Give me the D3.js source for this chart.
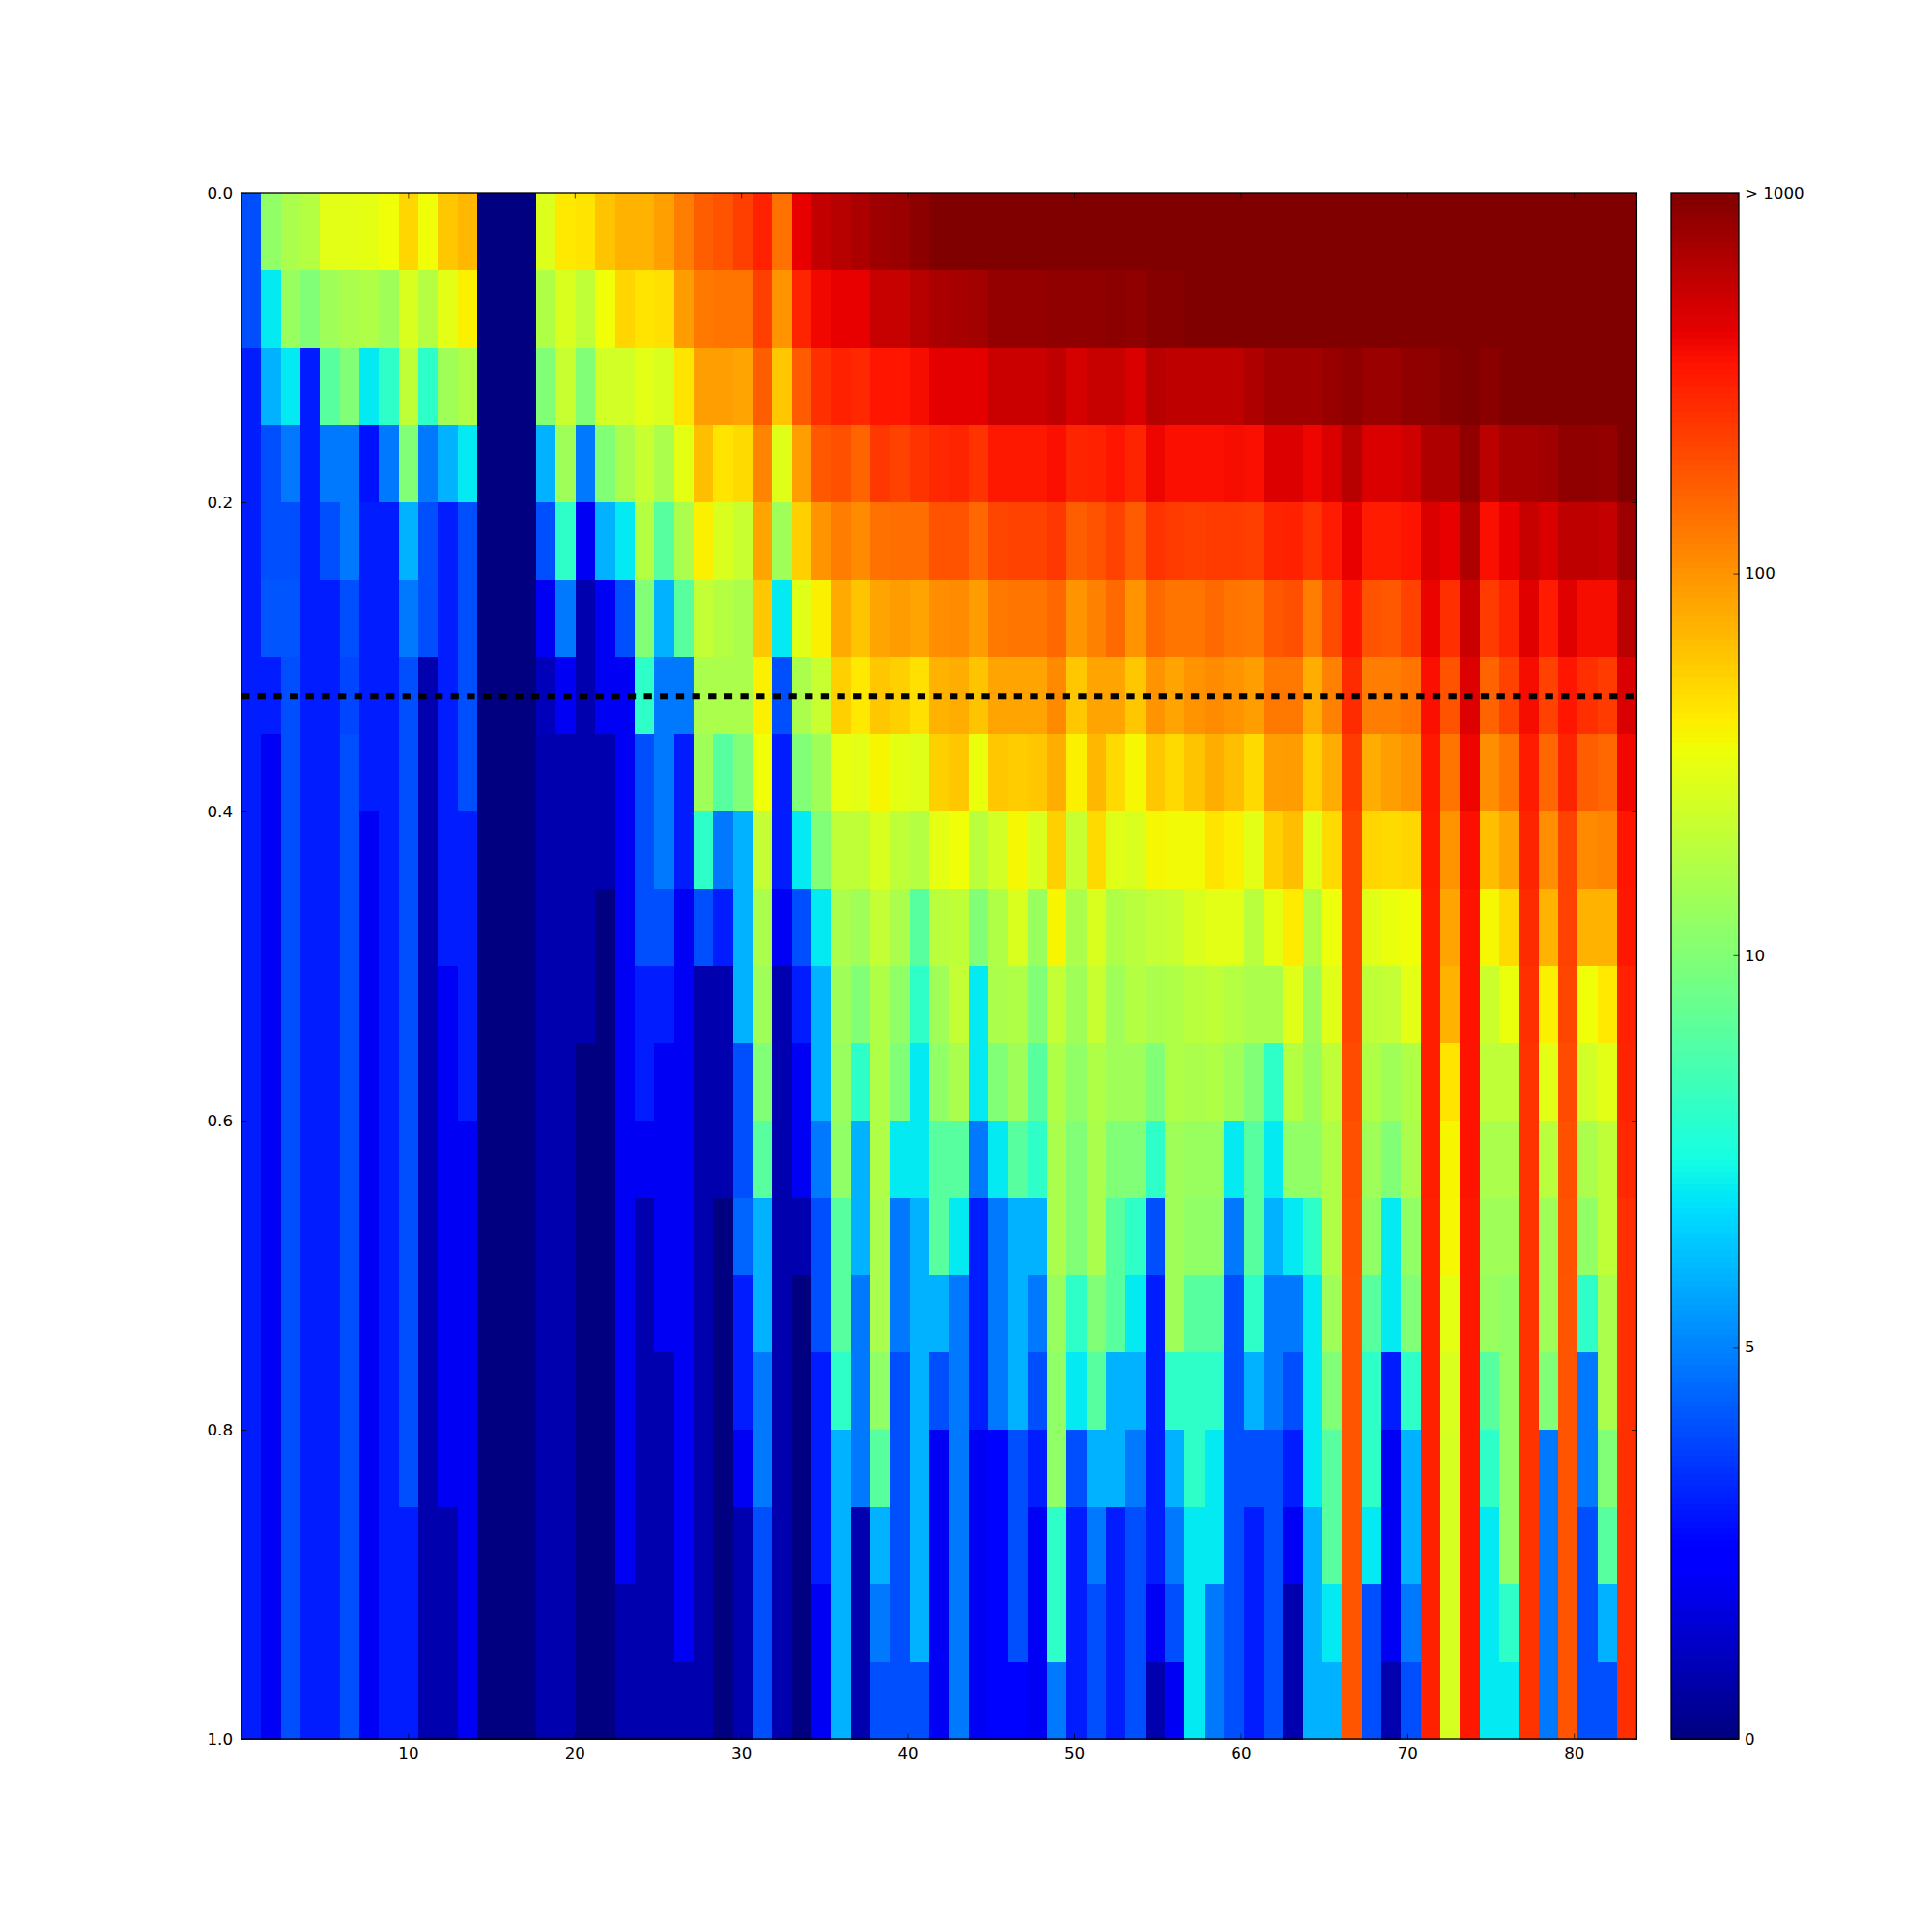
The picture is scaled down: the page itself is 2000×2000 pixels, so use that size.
<!DOCTYPE html>
<html><head><meta charset="utf-8">
<script src="https://cdnjs.cloudflare.com/ajax/libs/d3/7.8.5/d3.min.js"></script>
<style>
html,body{margin:0;padding:0;background:#fff}
svg{display:block}
text{font-family:"DejaVu Sans";fill:#000}
</style></head><body>
<svg id="c" width="2000" height="2000"></svg>
<script>
const Z=1000;
const r00=[4,12,16,18,30,30,31,35,52,35,60,70,0,0,0,28,43,45,62,73,73,88,125,170,190,230,310,140,430,580,640,700,780,800,900,Z,Z,Z,Z,Z,Z,Z,Z,Z,Z,Z,Z,Z,Z,Z,Z,Z,Z,Z,Z,Z,Z,Z,Z,Z,Z,Z,Z,Z,Z,Z,Z,Z,Z,Z,Z];
const r01=[4,7,13,10,14,16,17,14,27,18,30,40,0,0,0,17,27,20,35,52,45,47,92,130,135,135,230,100,300,400,430,430,560,560,640,710,730,750,850,850,850,870,870,870,900,870,950,950,Z,Z,Z,Z,Z,Z,Z,Z,Z,Z,Z,Z,Z,Z,Z,Z,Z,Z,Z,Z,Z,Z,Z];
const r02=[3,5.9,7,3,9,10,7,8,20,8,14,17,0,0,0,10,22,10,25,25,30,27,45,90,90,85,170,60,175,270,310,290,350,350,380,440,440,440,550,550,550,600,500,560,560,480,640,600,600,600,600,680,760,760,760,820,870,800,800,870,880,950,Z,920,Z,Z,Z,Z,Z,Z,Z];
const r03=[3,4,4.8,3,4.8,4.8,2.8,4.8,10,4.8,5.9,7,0,0,0,5.9,14,4.8,10,16,22,16,31,65,45,50,115,29,90,180,195,160,250,225,260,290,300,260,340,340,340,370,300,310,350,300,410,370,370,370,380,370,470,470,410,480,640,480,480,530,680,680,870,620,730,730,760,870,870,850,Z];
const r04=[3,4,4,3,4,4.8,3,3,5.9,4,3,4,0,0,0,4,8,2,5.9,7,18,9,16,40,27,22,85,14,55,100,125,108,140,145,145,190,190,155,215,225,225,250,170,190,225,175,260,240,230,240,240,230,300,310,260,330,430,330,330,360,480,430,680,370,430,560,480,600,600,570,790];
const r05=[3,4.1,4.1,3,3,4,3,3,4.8,4,3,4,0,0,0,2,4.8,.8,2,4,10,5.9,9,21,18,16,60,7,29,40,80,62,85,92,85,105,108,92,130,135,135,155,100,120,150,100,150,135,135,150,135,130,180,195,125,205,350,190,180,225,420,270,550,240,300,460,330,460,380,380,620];
const r06=[3,3,4,3,3,3.8,3,3,4,.8,3,4,0,0,0,1,2,.8,2,2,8,4.8,4.8,16,16,16,40,4,16,22,55,43,60,55,47,73,78,62,85,85,85,110,60,85,85,60,100,85,100,108,100,90,130,130,78,120,280,125,125,135,370,190,470,160,225,380,225,350,270,240,480];
const r07=[3,2,4,3,3,4,3,3,4,.8,3,4,0,0,0,.8,.8,.8,.8,2,4,4.8,3,14,9,10,35,3,10,14,32,30,38,31,29,55,60,33,60,57,60,77,40,70,50,37,60,50,62,77,65,50,90,92,55,78,240,78,90,100,340,135,410,105,135,330,155,300,170,155,400];
const r08=[3,2,4,3,3,4,2,3,4,.8,3,3,0,0,0,.8,.8,.8,.8,2,4,4.8,3,8,4.8,5.9,21,3,7,10,20,20,27,20,18,31,35,19,25,37,27,55,22,50,29,27,37,36,36,45,40,30,55,65,29,50,215,52,50,52,330,100,370,65,85,300,105,225,110,115,350];
const r09=[3,2,4,3,3,4,2,3,4,.8,3,3,0,0,0,.8,.8,.8,0,2,4,4,2,4,3,5.9,16,2,4,7,16,14,21,16,9,19,20,10,17,27,13,38,16,27,17,19,21,22,27,30,30,19,31,42,18,34,215,29,33,35,320,85,360,37,50,280,73,225,73,73,340];
const r10=[3,2,4,3,3,4,2,3,4,.8,2,3,0,0,0,.8,.8,.8,0,2,3,3,2,.8,.8,5.9,14,.8,3,5.9,14,10,17,12,8,14,21,7,16,17,10,21,14,22,14,18,16,17,19,20,18,16,16,29,14,29,215,20,21,30,320,73,360,23,33,270,40,215,35,43,310];
const r11=[3,2,4,3,3,4,2,3,4,.8,2,3,0,0,0,.8,.8,0,0,2,3,2,2,.8,.8,4,10,.8,2,5.9,13,8,17,10,7,12,16,7,10,14,9,17,12,17,14,14,10,17,16,17,14,10,8,18,13,20,205,17,14,17,320,45,360,20,20,260,30,205,25,30,300];
const r12=[3,2,4,3,3,4,2,3,4,.8,2,2,0,0,0,.8,.8,0,0,2,2,2,2,.8,.8,4,9,.8,2,4.8,12,5.9,17,7,7,9,9,4.8,7,9,8,16,10,16,10,10,8,14,13,13,7,9,7,12,12,17,195,14,10,16,320,38,360,16,16,260,19,195,16,20,290];
const r13=[3,2,4,3,3,4,2,3,4,.8,2,2,0,0,0,.8,.8,0,0,2,.8,2,2,.8,0,4.4,5.9,.8,.8,4,9,5.9,16,4.8,5.9,9,7,3,4.8,5.9,5.9,16,10,16,9,8,4,14,12,12,4.8,9,5.9,7,8,17,190,12,7,12,310,37,340,14,14,260,14,190,12,20,270];
const r14=[3,2,4,3,3,4,2,3,4,.8,2,2,0,0,0,.8,.8,0,0,2,.8,2,2,.8,0,3,5.9,.8,0,4,9,4.8,16,4.8,5.9,5.9,4.8,3,4.8,5.9,4.8,13,8,10,9,7,3,14,9,9,4,8,4.8,4.8,7,14,185,9,7,10,310,31,340,13,12,260,14,185,8,16,270];
const r15=[3,2,4,3,3,4,2,3,4,.8,2,2,0,0,0,.8,.8,0,0,2,.8,.8,2,.8,0,3,4.8,.8,0,3,8,4.8,12,4,5.9,4,4.8,3,4.8,5.9,4,12,7,9,5.9,5.9,3,8,8,8,4,5.9,4.8,4,7,10,185,8,3,8,310,27,340,9,12,260,10,185,4.8,16,270];
const r16=[3,2,4,3,3,4,2,3,4,.8,2,2,0,0,0,.8,.8,0,0,2,.8,.8,2,.8,0,2,4.8,.8,0,3,5.9,4.8,9,4,5.9,2,4.8,2,2.5,4,3,12,4,5.9,5.9,4.8,3,5.9,8,7,4,4,4,3,7,9,185,8,2,5.9,310,26,340,8,12,260,4.8,185,4.8,10,270];
const r17=[3,2,4,3,3,4,2,3,3,.8,.8,2,0,0,0,.8,.8,0,0,2,.8,.8,2,.8,0,.8,4,.8,0,3,5.9,.8,5.9,4,5.9,2,4.8,2,2.5,4,2,8,3,4.8,3,4,3,4.8,7,7,4,3,4,2,5.9,9,185,7,2,5.9,310,26,340,7,12,260,4.8,185,4,9,270];
const r18=[3,2,4,3,3,4,2,3,3,.8,.8,2,0,0,0,.8,.8,0,0,.8,.8,.8,2,.8,0,.8,4,.8,0,2,5.9,.8,4.8,4,5.9,2,4.8,2,2.5,4,2,8,3,4,3,4,2,4,7,4.8,4,3,4,.8,5.9,7,185,4,2,4.8,310,26,340,7,8,260,4.8,185,4,5.9,270];
const r19=[3,2,4,3,3,4,2,3,3,.8,.8,2,0,0,0,.8,.8,0,0,.8,.8,.8,.8,.8,0,.8,4,.8,0,2,5.9,.8,4,4,4,2,4.8,2,2.5,2.5,2,4.8,3,4,3,4,.8,2,7,4.8,4,3,4,.8,5.9,5.9,185,4,.8,4,310,26,340,7,7,260,4.8,185,4,4,270];
const rows=[r00,r01,r02,r03,r04,r05,r06,r07,r08,r09,r10,r11,r12,r13,r14,r15,r16,r17,r18,r19];
const xTicks=[10,20,30,40,50,60,70,80];
const yTicks=[0,.2,.4,.6,.8,1];
const xDomain=[0,83.78];
const cutoff=0.3255;
const barTicks=[0,5,10,100,1000];
const barLabels=["0","5","10","100","> 1000"];

rows.forEach((r,i)=>{if(r.length!==71)console.error("row",i,r.length)});

const L=250,R=1694.4,T=200,B=1800,CL=1730,CR=1800,FS=16.67;
const svg=d3.select("#c");
const x=d3.scaleLinear().domain(xDomain).range([L,R]);
const y=d3.scaleLinear().domain([0,1]).range([T,B]);
const cols=d3.scaleBand().domain(d3.range(71)).range([L,R]);
const rws=d3.scaleBand().domain(d3.range(20)).range([T,B]);

const low=d3.scaleLinear().domain([0,5,10]).range([0,.2535,.507]);
const high=d3.scaleLog().domain([10,100,1000]).range([.507,.754,1]);
const level=v=>v<=10?low(v):high(v);
const rr=d3.scaleLinear().domain([0,.35,.66,.89,1]).range([0,0,1,1,.5]).clamp(true);
const gg=d3.scaleLinear().domain([0,.125,.375,.64,.91,1]).range([0,0,1,1,0,0]).clamp(true);
const bb=d3.scaleLinear().domain([0,.11,.34,.65,1]).range([.5,1,1,0,0]).clamp(true);
const jet=t=>d3.rgb(rr(t)*255,gg(t)*255,bb(t)*255).formatHex();

const cells=svg.append("g").attr("shape-rendering","crispEdges");
rows.forEach((row,i)=>{
  cells.selectAll(null).data(row).enter().append("rect")
    .attr("x",(d,j)=>cols(j)).attr("y",rws(i))
    .attr("width",cols.bandwidth()+.5).attr("height",rws.bandwidth()+.5)
    .attr("fill",d=>jet(level(d)));
});

svg.append("line").attr("x1",L).attr("x2",R).attr("y1",y(cutoff)).attr("y2",y(cutoff))
  .attr("stroke","#000").attr("stroke-width",6.9).attr("stroke-dasharray","8.33 8.33");

function style(g,labels){
  g.select(".domain").remove();
  g.selectAll("line").attr("stroke","#000").attr("stroke-width",.7);
  g.selectAll("text").attr("font-size",FS).attr("font-family","DejaVu Sans").attr("fill","#000");
  if(!labels)g.selectAll("text").remove();
}
const tl=5.5;
svg.append("g").attr("transform",`translate(0,${B})`)
  .call(d3.axisBottom(x).tickValues(xTicks).tickSize(-tl).tickPadding(9).tickFormat(d3.format("d"))).call(style,true);
svg.append("g").attr("transform",`translate(0,${T})`)
  .call(d3.axisTop(x).tickValues(xTicks).tickSize(-tl)).call(style,false);
svg.append("g").attr("transform",`translate(${L},0)`)
  .call(d3.axisLeft(y).tickValues(yTicks).tickSize(-tl).tickPadding(9).tickFormat(d3.format(".1f"))).call(style,true);
svg.append("g").attr("transform",`translate(${R},0)`)
  .call(d3.axisRight(y).tickValues(yTicks).tickSize(-tl)).call(style,false);
svg.append("rect").attr("x",L).attr("y",T).attr("width",R-L).attr("height",B-T)
  .attr("fill","none").attr("stroke","#000").attr("stroke-width",1.3);

// colour bar
const cy=d3.scaleLinear().domain([0,1]).range([B,T]);
const bands=d3.range(256).map(i=>i/256);
svg.append("g").attr("shape-rendering","crispEdges").selectAll("rect").data(bands).enter().append("rect")
  .attr("x",CL).attr("width",CR-CL)
  .attr("y",d=>cy(d+1/256)).attr("height",(B-T)/256+.5)
  .attr("fill",d=>jet(d+.5/256));
svg.append("g").attr("transform",`translate(${CR},0)`)
  .call(d3.axisRight(d3.scaleLinear().domain([B,T]).range([B,T])).tickValues(barTicks.map(v=>cy(level(v)))).tickSize(-tl).tickPadding(6)
    .tickFormat((d,i)=>barLabels[i])).call(style,true);
svg.append("rect").attr("x",CL).attr("y",T).attr("width",CR-CL).attr("height",B-T)
  .attr("fill","none").attr("stroke","#000").attr("stroke-width",1.3);
</script></body></html>
